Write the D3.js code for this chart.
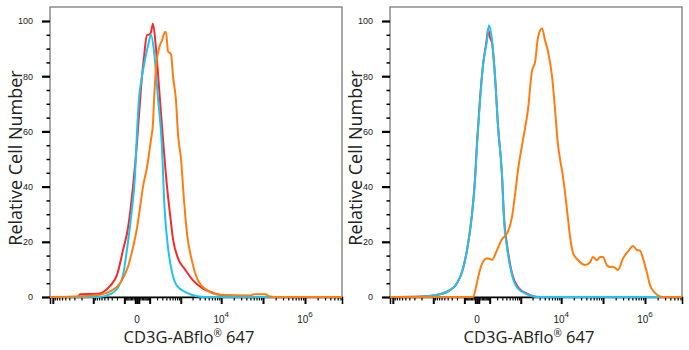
<!DOCTYPE html>
<html><head><meta charset="utf-8">
<script src="https://cdn.jsdelivr.net/npm/d3@7"></script>
<style>body{margin:0;background:#fff}svg{display:block}</style>
</head><body>
<svg id="c" width="689" height="350"></svg>
<script>
// ---------- data ----------
const xDomain = [-11700, 7.6e6];
const yTicks = [0, 20, 40, 60, 80, 100];
const xTickValues = [0, 1e4, 1e6];
const xTickBase = ["0", "10", "10"];
const xTickExp = ["", "4", "6"];
const xTitle = "CD3G-ABflo";
const yTitle = "Relative Cell Number";

// left panel
const leftRedX = [-11700,-2440,-2180,-748,-511,-339,-199,-115,-64,-24.5,0,11.6,31.5,46.8,72.9,93,115,140,183,234,316,418,511,620,847,1289,2054,3627,6336,11060,21440,7.6e6];
const leftRedY = [0,0,1,1.2,2,4,8,17,25,40,56,66,80,87,95,95,96,99,90,76,57,40,30,21,14,10,6,3,1.5,0.5,0,0];
const leftCyanX = [-11700,-660,-339,-199,-115,-64,-31.5,-11.6,0,11.6,31.5,55,82.7,115,154,216,294,339,447,581,797,1450,2583,4058,7.6e6];
const leftCyanY = [0,0,1,3,8,20,32,44,60,72,80,86,91,95,89,72,54,36,18,9,4,1.5,0.3,0,0];
const leftOrangeX = [-11700,-2180,-660,-339,-154,-64,-24.5,0,24.5,38.9,72.9,115,140,154,183,234,294,364,390,447,545,620,749,847,1016,1215,1450,1940,2730,4540,9370,48900,60960,111500,146700,254000,7.6e6];
const leftOrangeY = [0,0.3,0.8,2,5,11,18,25,35,40,47,57,63,71,83,90,93,96,96,89,88,80,71,59,50,35,23,13,6,2.5,0.8,0.5,1,1,0.2,0,0];

// right panel
const rightRedX = [-11700,-1940,-660,-339,-199,-128,-72.9,-31.5,-11.6,0,17.9,38.9,72.9,82.7,104,128,168,216,294,339,418,581,847,1450,2054,3062,7.6e6];
const rightRedY = [0,0.2,1,2.5,5,9,17,30,43,56,72,84,94,97,94,92,80,62,44,29,19,8.5,3.5,1.2,0.3,0,0];
const rightCyanX = [-11700,-1940,-660,-339,-199,-128,-72.9,-31.5,-11.6,0,17.9,38.9,72.9,93,128,168,216,294,339,418,581,847,1450,2054,3062,7.6e6];
const rightCyanY = [0,0.2,1,2.5,5,9,17,30,42,55,71,84,93,98.5,93,80,62,44,28,18,8,3,1,0.2,0,0];
const rightOrangeX = [-11700,-24.5,-11.6,5.6,31.5,72.9,128,199,294,418,581,703,847,1145,1538,1940,2304,2730,3429,4058,4800,6006,7097,8385,9370,11060,13800,16280,19200,25300,37180,48900,57700,71900,84750,99900,124000,146700,173000,227500,299300,393700,518000,645000,760000,895700,1.116e6,1.315e6,1.73e6,2.276e6,2.99e6,7.6e6];
const rightOrangeY = [0,0,2,7,12,14,13.5,17,21,23,29,37,46,57,68,82,85,94,97.4,93,89,80,68,55,50,43.5,31.5,22,16,13.4,11.6,12.5,14.5,13.3,14.5,14.5,11.5,10.9,11,9.8,14,16.5,18.5,17,16.8,14,8.7,4.3,1.5,0.2,0,0];

const colors = {red: "#f72a2a", cyan: "#1ec4f0", orange: "#ff7d10"};

// ---------- drawing ----------
const svg = d3.select("#c");
const panelW = 292, plotTop = 7, plotBottom = 297, y100 = 21;

function zip(xs, ys){ return xs.map((x,i)=>({x, y: ys[i]})); }

function panel(x0, series){
  const g = svg.append("g");
  const x = d3.scaleSymlog().constant(100).domain(xDomain).range([x0, x0 + panelW]);
  const y = d3.scaleLinear().domain([0, 100]).range([plotBottom, y100]);

  // frame
  g.append("rect").attr("x", x0).attr("y", plotTop).attr("width", panelW).attr("height", plotBottom - plotTop)
    .attr("fill", "none").attr("stroke", "#8a8a8a").attr("stroke-width", 1.5);

  // x ticks
  const minor = [], major = [0];
  for (let k = 1; k <= 6; k++) {
    for (let m = 1; m <= 9; m++) {
      const v = m * Math.pow(10, k);
      if (v < xDomain[1]) (m === 1 ? major : minor).push(v);
      if (-v > xDomain[0]) (m === 1 ? major : minor).push(-v);
    }
  }
  const axMinor = g.append("g").attr("transform", `translate(0,${plotBottom})`)
    .call(d3.axisBottom(x).tickValues(minor).tickSize(3.5).tickFormat(""));
  axMinor.select(".domain").remove();
  axMinor.selectAll("line").attr("stroke", "#000").attr("stroke-width", 1.2);
  const axMajor = g.append("g").attr("transform", `translate(0,${plotBottom})`)
    .call(d3.axisBottom(x).tickValues(major).tickSize(7).tickFormat(""));
  axMajor.select(".domain").attr("stroke", "#000").attr("stroke-width", 1.5);
  axMajor.selectAll("line").attr("stroke", "#000").attr("stroke-width", 2);

  // x tick labels
  xTickValues.forEach((v, i) => {
    const t = g.append("text").attr("x", x(v)).attr("y", 323)
      .attr("text-anchor", "middle").attr("font-family", "Liberation Sans, Arial, sans-serif")
      .attr("font-size", 10).attr("fill", "#222");
    t.append("tspan").text(xTickBase[i]);
    if (xTickExp[i]) t.append("tspan").attr("dy", -6).attr("font-size", 8).text(xTickExp[i]);
  });

  // y ticks
  const yMinor = d3.range(0, 101, 5).filter(v => v % 20 !== 0);
  const ayMinor = g.append("g").attr("transform", `translate(${x0},0)`)
    .call(d3.axisLeft(y).tickValues(yMinor).tickSize(3.5).tickFormat(""));
  ayMinor.select(".domain").remove();
  ayMinor.selectAll("line").attr("stroke", "#000").attr("stroke-width", 1.5);
  const ayMajor = g.append("g").attr("transform", `translate(${x0},0)`)
    .call(d3.axisLeft(y).tickValues(yTicks).tickSize(8).tickPadding(9));
  ayMajor.select(".domain").remove();
  ayMajor.selectAll("line").attr("stroke", "#000").attr("stroke-width", 2.2);
  ayMajor.selectAll("text").attr("font-family", "Liberation Sans, Arial, sans-serif")
    .attr("font-size", 9).attr("fill", "#222");

  // titles
  g.append("text").attr("transform", `translate(${x0 - 28},${158}) rotate(-90)`)
    .attr("text-anchor", "middle").attr("font-family", "Open Sans, sans-serif")
    .attr("font-size", 18).attr("fill", "#222").text(yTitle);
  const xt = g.append("text").attr("x", x0 + 139).attr("y", 343).attr("text-anchor", "middle")
    .attr("font-family", "Open Sans, sans-serif").attr("font-size", 16.5).attr("fill", "#222");
  xt.append("tspan").text(xTitle);
  xt.append("tspan").attr("dy", -6).attr("font-size", 10).text("®");
  xt.append("tspan").attr("dy", 6).text(" 647");

  // curves
  const line = d3.line().x(d => x(d.x)).y(d => y(d.y)).curve(d3.curveMonotoneX);
  series.forEach(s => {
    g.append("path").datum(zip(s.xs, s.ys)).attr("d", line)
      .attr("fill", "none").attr("stroke", s.color).attr("stroke-width", 2)
      .attr("stroke-linejoin", "round");
  });
}

panel(50, [
  {xs: leftRedX, ys: leftRedY, color: colors.red},
  {xs: leftCyanX, ys: leftCyanY, color: colors.cyan},
  {xs: leftOrangeX, ys: leftOrangeY, color: colors.orange}
]);
panel(390, [
  {xs: rightRedX, ys: rightRedY, color: colors.red},
  {xs: rightCyanX, ys: rightCyanY, color: colors.cyan},
  {xs: rightOrangeX, ys: rightOrangeY, color: colors.orange}
]);
</script>
</body></html>
